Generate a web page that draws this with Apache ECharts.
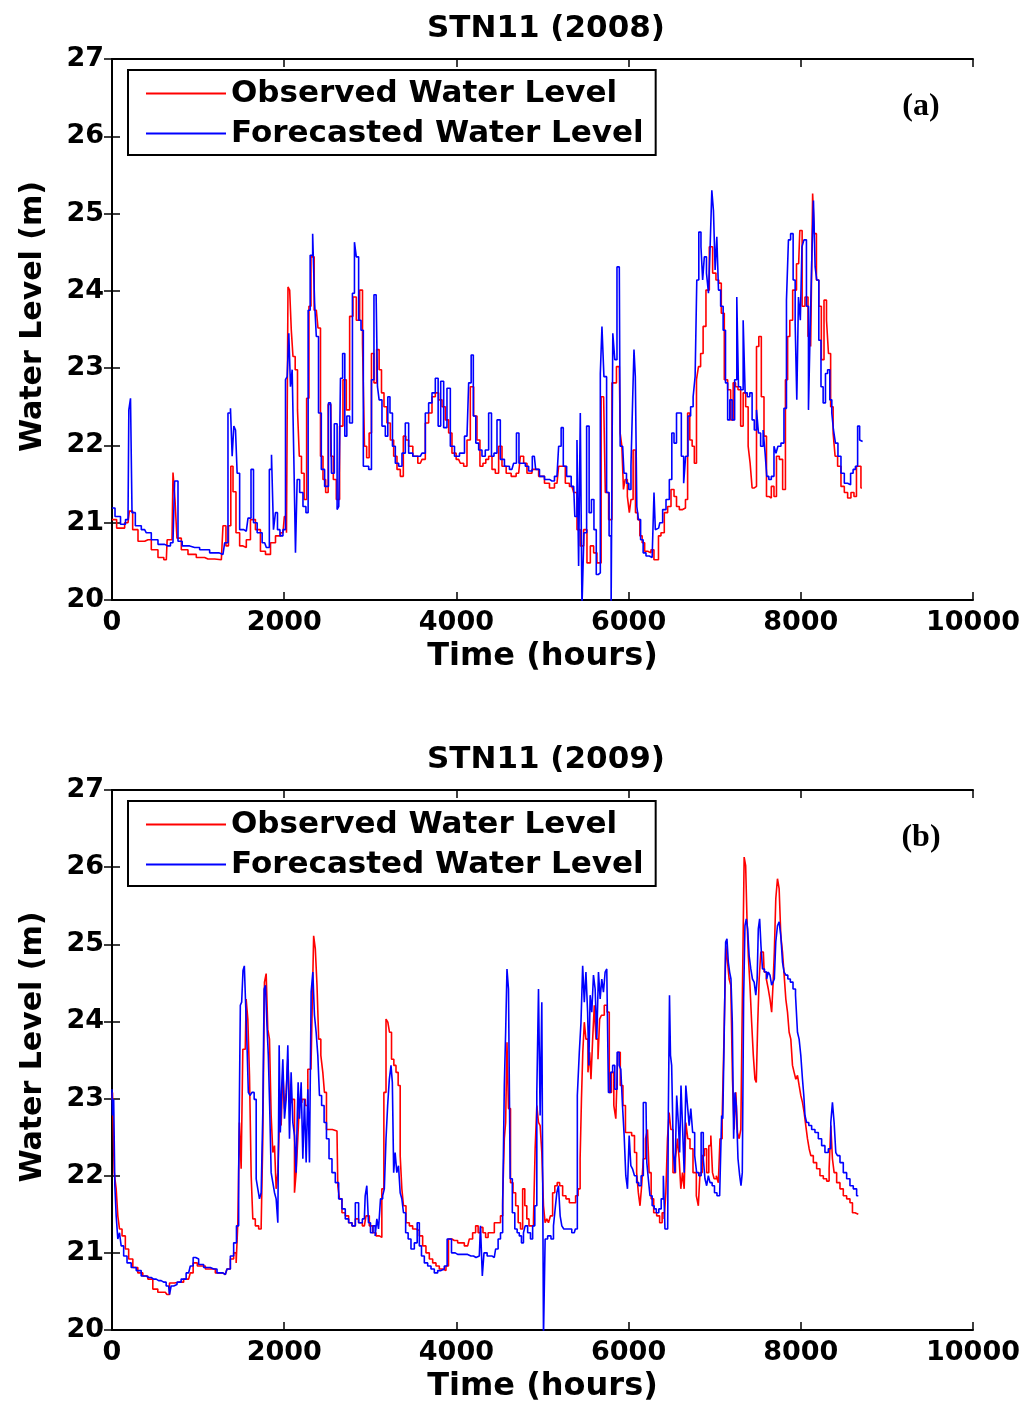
<!DOCTYPE html>
<html>
<head>
<meta charset="utf-8">
<script src="https://cdn.jsdelivr.net/npm/echarts@6/dist/echarts.min.js"></script>
<style>
html,body{margin:0;padding:0;background:#fff;}
#chart{width:1029px;height:1405px;}
</style>
</head>
<body>
<div id="chart"></div>
<script>
// ---------- DATA (hours, water level m) ----------
const titles = ['STN11 (2008)', 'STN11 (2009)'];
const panelTags = ['(a)', '(b)'];
const seriesNames = ['Observed Water Level', 'Forecasted Water Level'];
const xTicks = {min: 0, max: 10000, interval: 2000};
const yTicks = {min: 20, max: 27, interval: 1};

const obs2008 = [[0,21.04],[108,20.93],[186,21.00],[217,21.15],[263,20.91],[341,20.76],[418,20.78],[495,20.65],[573,20.55],[631,20.52],[650,20.78],[697,20.78],[720,21.65],[743,21.30],[766,20.80],[844,20.65],[921,20.59],[1037,20.55],[1115,20.53],[1270,20.52],[1308,20.96],[1339,20.70],[1366,20.96],[1394,21.73],[1417,21.40],[1463,20.87],[1502,20.70],[1541,20.68],[1579,20.78],[1637,21.04],[1695,20.91],[1753,20.63],[1812,20.59],[1870,20.74],[1928,20.83],[1986,20.87],[2017,21.08],[2036,20.87],[2052,24.05],[2075,24.01],[2090,23.49],[2114,23.15],[2141,22.98],[2168,22.46],[2183,21.86],[2218,21.64],[2245,21.30],[2276,22.61],[2299,23.80],[2323,24.44],[2373,23.75],[2412,23.52],[2431,21.86],[2470,21.56],[2493,21.39],[2528,22.53],[2555,21.86],[2586,21.56],[2624,21.30],[2663,22.25],[2702,22.85],[2741,22.46],[2779,23.67],[2818,23.92],[2857,23.62],[2896,24.01],[2923,23.32],[2942,21.99],[2973,21.84],[3000,22.16],[3027,23.19],[3058,22.81],[3089,23.24],[3116,22.98],[3144,22.68],[3174,22.50],[3213,22.29],[3252,22.07],[3291,21.86],[3329,21.69],[3368,21.60],[3399,22.12],[3426,22.07],[3465,21.99],[3523,21.86],[3581,21.77],[3620,21.82],[3658,22.29],[3697,22.42],[3736,22.63],[3774,22.68],[3813,22.59],[3852,22.50],[3891,22.33],[3929,22.16],[3968,21.90],[4026,21.82],[4065,21.77],[4104,21.73],[4142,22.07],[4181,22.76],[4220,22.38],[4258,22.07],[4289,21.73],[4328,21.77],[4355,21.82],[4394,21.86],[4433,21.69],[4471,21.64],[4510,21.99],[4549,21.73],[4607,21.64],[4665,21.60],[4723,21.64],[4762,21.86],[4800,21.77],[4839,21.64],[4916,21.69],[4994,21.60],[5052,21.51],[5110,21.45],[5168,21.51],[5207,21.73],[5246,21.73],[5284,21.51],[5342,21.47],[5381,21.39],[5420,20.91],[5458,20.70],[5497,20.91],[5536,20.48],[5575,20.70],[5613,20.61],[5652,20.48],[5710,22.63],[5749,21.39],[5787,21.04],[5826,22.81],[5892,23.02],[5912,22.16],[5931,21.99],[5950,21.43],[5970,21.56],[6001,21.34],[6016,21.13],[6039,21.30],[6066,21.94],[6094,21.13],[6117,21.04],[6144,20.83],[6171,20.74],[6202,20.63],[6241,20.61],[6279,20.65],[6310,20.52],[6337,20.52],[6357,20.83],[6395,20.87],[6434,21.13],[6473,21.21],[6512,21.43],[6543,21.34],[6570,21.21],[6608,21.17],[6647,21.19],[6674,21.30],[6697,22.42],[6724,22.07],[6752,21.99],[6775,21.77],[6802,22.85],[6821,23.02],[6852,23.19],[6879,23.54],[6918,24.01],[6957,24.57],[6995,24.23],[7034,24.14],[7061,24.10],[7092,23.71],[7131,22.85],[7170,22.72],[7201,22.33],[7228,22.81],[7255,22.76],[7286,22.72],[7317,22.25],[7344,22.68],[7375,22.50],[7402,21.99],[7421,21.77],[7448,21.45],[7472,21.47],[7499,23.28],[7526,23.41],[7557,22.63],[7588,22.12],[7615,21.34],[7642,21.32],[7673,21.47],[7704,21.34],[7731,21.86],[7770,21.82],[7808,21.43],[7835,22.85],[7859,23.41],[7886,23.62],[7925,24.01],[7975,24.35],[8002,24.78],[8029,23.80],[8068,23.92],[8099,23.41],[8130,23.28],[8145,25.26],[8168,24.74],[8195,24.14],[8223,23.80],[8254,23.11],[8285,23.88],[8312,23.62],[8331,23.19],[8362,22.50],[8389,22.16],[8408,21.86],[8447,21.73],[8486,21.47],[8525,21.39],[8563,21.32],[8602,21.39],[8633,21.34],[8660,21.73],[8687,21.73],[8710,21.45]];

const fcst2008 = [[0,21.19],[70,21.08],[128,20.98],[186,21.04],[205,22.46],[225,22.61],[240,21.13],[302,20.96],[379,20.91],[418,20.87],[495,20.78],[573,20.72],[650,20.70],[708,20.74],[747,21.54],[786,20.76],[844,20.70],[960,20.68],[1076,20.65],[1192,20.61],[1289,20.59],[1328,20.74],[1366,22.42],[1386,22.48],[1405,21.86],[1425,22.25],[1444,22.20],[1463,21.64],[1502,20.91],[1560,20.89],[1599,21.06],[1630,21.69],[1657,21.00],[1715,20.87],[1773,20.74],[1812,20.68],[1843,21.69],[1862,21.88],[1889,20.91],[1908,21.13],[1936,20.91],[1966,20.83],[2005,20.91],[2025,22.85],[2044,22.89],[2063,23.45],[2083,22.76],[2102,22.98],[2121,21.86],[2141,20.61],[2160,21.56],[2199,21.39],[2237,21.21],[2268,21.13],[2288,23.75],[2315,24.46],[2346,24.74],[2361,23.84],[2385,23.41],[2412,22.42],[2450,21.69],[2489,21.47],[2539,22.55],[2559,21.64],[2605,22.28],[2624,21.17],[2644,21.21],[2663,22.87],[2694,23.19],[2714,22.12],[2741,22.38],[2779,22.29],[2806,23.97],[2826,24.63],[2849,24.44],[2880,23.62],[2904,23.49],[2934,21.73],[2962,21.73],[3000,21.69],[3027,22.85],[3058,23.95],[3078,23.92],[3089,22.76],[3116,22.59],[3155,22.25],[3194,22.12],[3213,22.63],[3244,22.42],[3271,21.99],[3310,21.77],[3349,21.73],[3387,21.90],[3426,22.29],[3465,21.90],[3523,21.86],[3581,21.86],[3620,21.90],[3658,22.42],[3697,22.55],[3736,22.68],[3774,22.87],[3802,22.25],[3833,22.83],[3871,22.23],[3910,22.74],[3949,21.99],[4007,21.86],[4065,21.90],[4123,22.12],[4162,22.81],[4181,23.17],[4212,22.38],[4239,22.03],[4278,21.94],[4316,21.86],[4355,21.94],[4394,22.42],[4421,21.86],[4452,21.90],[4491,22.33],[4529,21.82],[4587,21.73],[4645,21.69],[4684,21.77],[4711,22.16],[4742,21.77],[4781,21.77],[4820,21.73],[4858,21.67],[4905,21.86],[4936,21.69],[4994,21.60],[5052,21.56],[5110,21.54],[5168,21.60],[5207,21.99],[5226,22.23],[5257,21.73],[5304,21.60],[5362,21.47],[5389,21.08],[5412,22.07],[5427,20.44],[5451,22.42],[5466,19.90],[5497,20.87],[5528,22.25],[5555,21.13],[5582,21.30],[5613,20.91],[5636,20.33],[5660,20.35],[5683,22.93],[5698,23.54],[5729,22.89],[5760,21.39],[5787,20.83],[5807,19.90],[5826,23.45],[5853,23.11],[5877,24.31],[5892,24.31],[5912,21.99],[5931,21.99],[5962,21.64],[5989,21.51],[6016,21.43],[6039,21.73],[6055,22.59],[6070,23.24],[6086,22.89],[6105,21.21],[6124,21.04],[6155,20.78],[6183,20.61],[6221,20.57],[6260,20.55],[6287,20.57],[6303,21.39],[6318,20.91],[6349,20.93],[6376,21.00],[6415,21.17],[6454,21.30],[6492,21.56],[6512,22.16],[6543,22.03],[6570,22.42],[6597,22.42],[6628,21.86],[6651,21.51],[6674,21.86],[6705,22.38],[6736,22.50],[6763,22.63],[6782,22.89],[6802,24.14],[6829,24.76],[6852,24.57],[6868,24.14],[6891,24.44],[6918,24.23],[6937,23.97],[6957,24.57],[6976,25.30],[6995,25.04],[7015,24.27],[7034,24.70],[7054,24.01],[7084,23.80],[7112,23.49],[7139,22.81],[7162,22.33],[7189,22.59],[7216,22.33],[7247,22.85],[7266,23.92],[7286,22.76],[7317,22.72],[7344,23.62],[7363,22.68],[7394,22.63],[7421,22.68],[7448,22.33],[7472,22.20],[7499,22.46],[7518,22.16],[7549,21.99],[7576,22.20],[7595,21.90],[7615,21.60],[7642,21.56],[7673,21.60],[7704,21.99],[7719,21.90],[7750,21.99],[7789,22.03],[7820,22.48],[7847,23.88],[7866,24.66],[7897,24.74],[7925,24.14],[7944,23.58],[7963,22.59],[7983,23.92],[8006,23.62],[8021,24.57],[8052,24.66],[8079,23.80],[8099,22.46],[8118,23.49],[8137,24.40],[8157,25.17],[8176,24.31],[8195,24.14],[8223,23.36],[8246,22.76],[8273,22.55],[8300,22.93],[8323,22.98],[8350,22.59],[8370,22.42],[8389,22.20],[8416,22.03],[8447,21.86],[8486,21.64],[8525,21.51],[8563,21.49],[8594,21.64],[8621,21.69],[8648,21.73],[8672,22.25],[8695,22.07],[8718,22.05]];

const obs2009 = [[0,22.99],[12,23.08],[39,22.04],[58,21.83],[77,21.48],[97,21.31],[136,21.22],[174,21.05],[213,20.92],[271,20.81],[329,20.74],[387,20.70],[445,20.66],[503,20.53],[561,20.49],[619,20.49],[658,20.46],[677,20.61],[774,20.62],[890,20.66],[929,20.74],[956,20.87],[1026,20.83],[1142,20.79],[1258,20.74],[1316,20.72],[1355,20.79],[1394,20.92],[1432,21.00],[1452,20.87],[1471,21.39],[1490,22.69],[1510,22.09],[1529,23.64],[1548,23.64],[1568,24.29],[1587,24.03],[1607,23.30],[1626,22.00],[1645,21.44],[1684,21.35],[1723,21.31],[1742,21.35],[1761,22.48],[1781,24.51],[1800,24.62],[1819,23.90],[1839,23.77],[1858,22.78],[1878,22.30],[1897,22.39],[1916,21.83],[1936,22.04],[1955,22.74],[1974,22.65],[1994,23.34],[2013,22.87],[2032,23.08],[2052,23.51],[2071,22.95],[2110,22.99],[2129,21.78],[2148,22.04],[2168,22.48],[2187,22.95],[2226,22.99],[2265,22.91],[2284,23.38],[2311,23.38],[2334,24.03],[2350,25.11],[2373,24.94],[2389,24.47],[2412,23.77],[2439,23.56],[2458,23.34],[2477,23.08],[2505,22.60],[2613,22.58],[2632,21.87],[2652,21.70],[2690,21.52],[2729,21.48],[2768,21.39],[2807,21.35],[2845,21.44],[2884,21.39],[2931,21.35],[2969,21.48],[3008,21.35],[3047,21.26],[3086,21.22],[3124,21.20],[3144,21.83],[3171,23.08],[3194,24.03],[3213,23.99],[3233,23.86],[3260,23.51],[3287,23.43],[3310,23.34],[3337,23.17],[3357,22.26],[3376,21.83],[3395,21.61],[3434,21.39],[3473,21.35],[3511,21.31],[3550,21.29],[3589,21.22],[3627,21.09],[3666,21.00],[3705,20.92],[3744,20.87],[3782,20.83],[3821,20.79],[3860,20.77],[3898,20.83],[3918,21.18],[3976,21.16],[4053,21.13],[4131,21.09],[4169,21.18],[4208,21.26],[4239,21.35],[4266,21.26],[4293,21.33],[4324,21.26],[4355,21.20],[4382,21.26],[4421,21.26],[4460,21.39],[4498,21.39],[4526,21.48],[4549,21.70],[4564,22.48],[4580,22.69],[4595,23.73],[4615,22.87],[4642,21.91],[4673,21.78],[4704,21.61],[4731,21.39],[4758,21.31],[4781,21.83],[4808,21.61],[4828,21.44],[4858,21.35],[4886,21.35],[4905,21.44],[4924,22.35],[4944,22.91],[4963,22.69],[4982,22.65],[5002,22.30],[5021,21.61],[5040,21.39],[5060,21.44],[5079,21.39],[5106,21.48],[5129,21.78],[5157,21.87],[5184,21.91],[5215,21.87],[5253,21.74],[5292,21.70],[5331,21.65],[5369,21.65],[5400,21.74],[5427,21.83],[5447,22.22],[5458,22.99],[5478,23.60],[5493,23.99],[5516,23.77],[5540,23.34],[5555,23.60],[5571,23.25],[5594,23.77],[5609,24.21],[5633,23.77],[5656,23.51],[5671,24.03],[5698,24.08],[5737,24.21],[5764,24.12],[5787,23.08],[5815,23.34],[5842,22.91],[5861,22.74],[5888,23.60],[5919,23.17],[5950,22.91],[5977,22.56],[6016,22.56],[6055,22.52],[6082,22.30],[6105,22.04],[6121,21.78],[6144,21.61],[6159,21.87],[6183,22.22],[6210,22.48],[6229,22.60],[6248,22.04],[6276,21.70],[6307,21.52],[6345,21.48],[6376,21.39],[6403,21.52],[6423,21.44],[6442,21.78],[6461,22.48],[6481,22.82],[6500,22.60],[6531,22.04],[6558,22.22],[6577,22.48],[6597,22.22],[6616,21.83],[6636,22.04],[6655,21.83],[6674,22.69],[6701,22.48],[6725,22.35],[6771,22.04],[6802,21.74],[6818,21.61],[6841,22.04],[6868,22.26],[6895,22.35],[6918,22.04],[6945,22.39],[6965,22.52],[6984,22.04],[7003,21.96],[7034,22.00],[7050,21.91],[7073,22.48],[7100,22.74],[7119,23.86],[7139,24.98],[7158,24.77],[7177,24.55],[7197,24.47],[7216,23.25],[7236,22.60],[7255,23.08],[7274,22.56],[7294,22.48],[7313,22.60],[7332,24.42],[7352,26.13],[7367,26.02],[7383,25.33],[7398,24.85],[7421,24.47],[7437,23.99],[7460,23.56],[7475,23.25],[7491,23.21],[7507,23.95],[7526,24.55],[7545,24.90],[7565,24.90],[7584,24.64],[7615,24.55],[7630,24.42],[7654,24.29],[7669,24.12],[7685,24.47],[7700,24.90],[7719,25.59],[7739,25.85],[7758,25.72],[7778,25.11],[7797,24.90],[7816,24.60],[7836,24.29],[7855,24.12],[7874,23.86],[7894,23.77],[7913,23.43],[7932,23.34],[7952,23.25],[7971,23.30],[7990,23.17],[8010,23.04],[8029,22.95],[8048,22.82],[8068,22.65],[8087,22.48],[8107,22.35],[8126,22.26],[8165,22.17],[8203,22.09],[8242,22.00],[8281,21.96],[8319,21.93],[8339,22.09],[8358,22.65],[8377,22.22],[8397,22.04],[8436,21.91],[8474,21.83],[8513,21.74],[8552,21.70],[8590,21.65],[8610,21.52],[8629,21.52],[8668,21.50]];

const fcst2009 = [[0,23.12],[12,22.78],[27,22.99],[39,21.87],[58,21.48],[77,21.18],[97,21.26],[116,21.09],[155,20.96],[194,20.87],[252,20.81],[310,20.77],[368,20.70],[426,20.68],[484,20.66],[542,20.64],[600,20.62],[658,20.57],[677,20.46],[697,20.57],[736,20.59],[774,20.62],[832,20.66],[890,20.74],[929,20.83],[956,20.94],[987,20.92],[1026,20.85],[1103,20.81],[1181,20.79],[1258,20.74],[1316,20.72],[1355,20.79],[1394,20.96],[1432,21.13],[1459,21.35],[1483,22.04],[1498,24.21],[1514,24.25],[1529,24.66],[1545,24.72],[1560,24.21],[1576,23.69],[1591,23.08],[1614,23.04],[1637,23.08],[1665,22.99],[1684,21.96],[1703,21.83],[1723,21.70],[1742,21.78],[1761,22.82],[1773,24.42],[1792,24.47],[1808,23.95],[1823,23.56],[1839,22.91],[1858,22.04],[1878,21.91],[1897,21.78],[1916,21.70],[1936,21.39],[1947,23.69],[1963,22.56],[1974,23.08],[1994,23.51],[2013,22.74],[2032,22.99],[2052,23.69],[2071,22.48],[2090,23.34],[2110,22.69],[2129,22.52],[2148,22.04],[2156,22.78],[2168,23.21],[2187,22.74],[2207,23.21],[2226,22.22],[2245,22.99],[2265,22.17],[2284,23.12],[2303,22.17],[2323,24.38],[2342,24.64],[2361,24.08],[2381,23.86],[2400,23.56],[2419,23.04],[2450,22.91],[2477,22.69],[2505,22.48],[2536,22.22],[2574,22.04],[2613,21.91],[2652,21.70],[2690,21.57],[2729,21.44],[2768,21.39],[2807,21.35],[2845,21.65],[2884,21.39],[2931,21.44],[2950,21.74],[2969,21.87],[2989,21.39],[3016,21.26],[3047,21.35],[3066,21.22],[3086,21.44],[3105,21.31],[3132,21.70],[3155,21.74],[3171,21.83],[3194,22.48],[3209,22.91],[3233,23.25],[3248,23.43],[3264,23.21],[3279,22.04],[3298,22.30],[3318,22.04],[3337,22.13],[3357,21.78],[3376,21.70],[3395,21.52],[3426,21.26],[3453,21.18],[3492,21.05],[3531,21.13],[3558,21.39],[3581,21.09],[3608,20.96],[3647,20.87],[3686,20.83],[3724,20.79],[3763,20.74],[3802,20.77],[3840,20.79],[3879,20.83],[3906,21.18],[3929,21.18],[3957,21.00],[4015,20.98],[4092,20.98],[4169,20.96],[4228,20.94],[4266,20.96],[4293,21.35],[4309,20.70],[4332,21.00],[4382,20.96],[4440,20.94],[4471,21.05],[4498,21.18],[4526,21.26],[4549,21.61],[4564,23.17],[4580,23.86],[4595,24.68],[4615,24.42],[4634,21.96],[4665,21.52],[4692,21.31],[4719,21.26],[4742,21.22],[4769,21.13],[4789,21.26],[4808,21.35],[4847,21.26],[4874,21.18],[4897,21.35],[4924,21.61],[4944,23.08],[4963,24.42],[4982,22.78],[5002,24.25],[5021,19.90],[5040,21.18],[5079,21.22],[5118,21.18],[5137,21.35],[5157,21.57],[5176,21.78],[5195,21.87],[5215,21.48],[5234,21.35],[5261,21.31],[5311,21.31],[5369,21.26],[5393,21.31],[5416,23.04],[5439,23.60],[5455,23.99],[5478,24.72],[5493,24.25],[5516,24.64],[5532,24.12],[5544,23.43],[5563,24.34],[5582,24.12],[5602,24.60],[5621,24.42],[5640,23.77],[5660,24.64],[5679,24.29],[5698,24.55],[5718,24.38],[5737,24.64],[5756,24.68],[5776,23.08],[5803,23.34],[5826,23.43],[5853,23.12],[5881,23.60],[5900,23.43],[5919,23.38],[5939,22.91],[5958,22.52],[5977,22.00],[5997,21.83],[6016,22.52],[6036,22.13],[6055,22.09],[6082,22.00],[6105,21.91],[6132,21.87],[6159,22.00],[6183,22.95],[6202,22.95],[6221,22.17],[6237,21.96],[6260,21.74],[6287,21.61],[6307,21.57],[6337,21.52],[6365,21.57],[6392,21.70],[6415,22.00],[6430,21.31],[6454,21.31],[6469,22.82],[6481,24.34],[6492,23.56],[6508,23.43],[6531,22.30],[6547,22.04],[6570,23.04],[6585,22.69],[6601,22.30],[6616,23.17],[6636,22.65],[6655,22.04],[6674,23.17],[6694,22.91],[6713,22.65],[6732,22.87],[6756,22.56],[6779,22.26],[6802,22.04],[6829,22.00],[6856,22.56],[6879,22.22],[6895,21.96],[6918,21.87],[6934,22.00],[6957,21.91],[6984,21.87],[7011,21.78],[7042,21.74],[7073,21.74],[7088,22.78],[7100,22.74],[7119,23.77],[7135,25.03],[7150,25.07],[7166,24.77],[7181,24.64],[7197,24.55],[7212,23.99],[7228,22.48],[7243,23.08],[7259,22.91],[7282,22.22],[7298,22.00],[7313,21.87],[7328,22.04],[7344,24.29],[7359,25.24],[7375,25.33],[7390,25.20],[7410,24.85],[7429,24.68],[7448,24.55],[7468,24.51],[7487,24.34],[7499,24.55],[7514,25.20],[7530,25.33],[7545,24.98],[7565,24.68],[7592,24.64],[7615,24.55],[7630,24.64],[7654,24.60],[7669,24.47],[7685,24.51],[7700,24.55],[7719,25.03],[7739,25.24],[7758,25.29],[7778,25.11],[7797,24.77],[7816,24.64],[7836,24.60],[7863,24.55],[7894,24.51],[7925,24.42],[7952,24.34],[7971,23.86],[7990,23.77],[8010,23.56],[8029,23.25],[8041,23.04],[8056,22.78],[8079,22.69],[8107,22.65],[8145,22.60],[8184,22.56],[8223,22.48],[8261,22.39],[8300,22.30],[8339,22.35],[8358,22.69],[8377,22.95],[8397,22.69],[8416,22.30],[8436,22.26],[8474,22.17],[8513,22.04],[8552,21.96],[8590,21.87],[8629,21.83],[8668,21.74]];

// ---------- CHART ----------
const FONT = 'DejaVu Sans';
const panels = [
  {top: 59, height: 541, obs: obs2008, fcst: fcst2008},
  {top: 790, height: 540, obs: obs2009, fcst: fcst2009}
];
const GRID_LEFT = 112, GRID_W = 861;

const chart = echarts.init(document.getElementById('chart'), null, {renderer: 'canvas'});

const grids = [], xAxes = [], yAxes = [], series = [], legends = [], titleOpts = [], graphics = [];
const axisLineStyle = {color: '#000', width: 2};
const tickStyle = {color: '#000', width: 1.5};

panels.forEach((p, i) => {
  grids.push({left: GRID_LEFT, top: p.top, width: GRID_W, height: p.height, containLabel: false, show: false});
  xAxes.push({
    gridIndex: i, type: 'value', position: 'bottom',
    min: xTicks.min, max: xTicks.max, interval: xTicks.interval,
    axisLine: {show: true, lineStyle: axisLineStyle},
    axisTick: {show: true, inside: true, length: 8, lineStyle: tickStyle},
    axisLabel: {show: true, margin: 9, color: '#000', fontFamily: FONT, fontWeight: 'bold', fontSize: 27,
                formatter: v => String(v)},
    splitLine: {show: false},
    name: 'Time (hours)', nameLocation: 'middle', nameGap: 41,
    nameTextStyle: {color: '#000', fontFamily: FONT, fontWeight: 'bold', fontSize: 32}
  });
  xAxes.push({
    gridIndex: i, type: 'value', position: 'top',
    min: xTicks.min, max: xTicks.max, interval: xTicks.interval,
    axisLine: {show: true, lineStyle: axisLineStyle},
    axisTick: {show: true, inside: true, length: 8, lineStyle: tickStyle},
    axisLabel: {show: false}, splitLine: {show: false}
  });
  yAxes.push({
    gridIndex: i, type: 'value', position: 'left',
    min: yTicks.min, max: yTicks.max, interval: yTicks.interval,
    axisLine: {show: true, lineStyle: axisLineStyle},
    axisTick: {show: true, inside: true, length: 8, lineStyle: tickStyle},
    axisLabel: {show: true, margin: 8, color: '#000', fontFamily: FONT, fontWeight: 'bold', fontSize: 27,
                formatter: v => String(v)},
    splitLine: {show: false},
    name: 'Water Level (m)', nameLocation: 'middle', nameGap: 64, nameRotate: 90,
    nameTextStyle: {color: '#000', fontFamily: FONT, fontWeight: 'bold', fontSize: 30, padding: [0, 0, 0, 26]}
  });
  yAxes.push({
    gridIndex: i, type: 'value', position: 'right',
    min: yTicks.min, max: yTicks.max, interval: yTicks.interval,
    axisLine: {show: true, lineStyle: axisLineStyle},
    axisTick: {show: true, inside: true, length: 8, lineStyle: tickStyle},
    axisLabel: {show: false}, splitLine: {show: false}
  });
  const common = {type: 'line', xAxisIndex: i * 2, yAxisIndex: i * 2, showSymbol: false, symbol: 'none',
                  step: 'middle', clip: true, animation: false, silent: true};
  series.push(Object.assign({}, common, {name: seriesNames[0], data: p.obs,
    lineStyle: {color: '#ff0000', width: 1.6}, itemStyle: {color: '#ff0000'}}));
  series.push(Object.assign({}, common, {name: seriesNames[1], data: p.fcst,
    lineStyle: {color: '#0000ff', width: 1.6}, itemStyle: {color: '#0000ff'}}));
  legends.push({
    left: 128, top: p.top + 11, orient: 'vertical', icon: 'rect',
    itemWidth: 80, itemHeight: 2, itemGap: 9,
    padding: [8, 12, 6, 18], borderColor: '#000', borderWidth: 2, backgroundColor: '#fff',
    selectedMode: false,
    textStyle: {color: '#000', fontFamily: FONT, fontWeight: 'bold', fontSize: 31, lineHeight: 30},
    data: seriesNames
  });
  titleOpts.push({
    text: titles[i], left: 541, top: p.top - 51, textAlign: 'center',
    textStyle: {color: '#000', fontFamily: FONT, fontWeight: 'bold', fontSize: 31}
  });
  graphics.push({
    type: 'text', x: 921, y: p.top + 48,
    style: {text: panelTags[i], fill: '#000', font: 'bold 32px "Liberation Serif", "Times New Roman", serif',
            textAlign: 'center', textVerticalAlign: 'middle'}
  });
});

chart.setOption({
  backgroundColor: '#fff',
  animation: false,
  title: titleOpts,
  grid: grids,
  xAxis: xAxes,
  yAxis: yAxes,
  legend: legends,
  series: series,
  graphic: graphics
});
</script>
</body>
</html>
